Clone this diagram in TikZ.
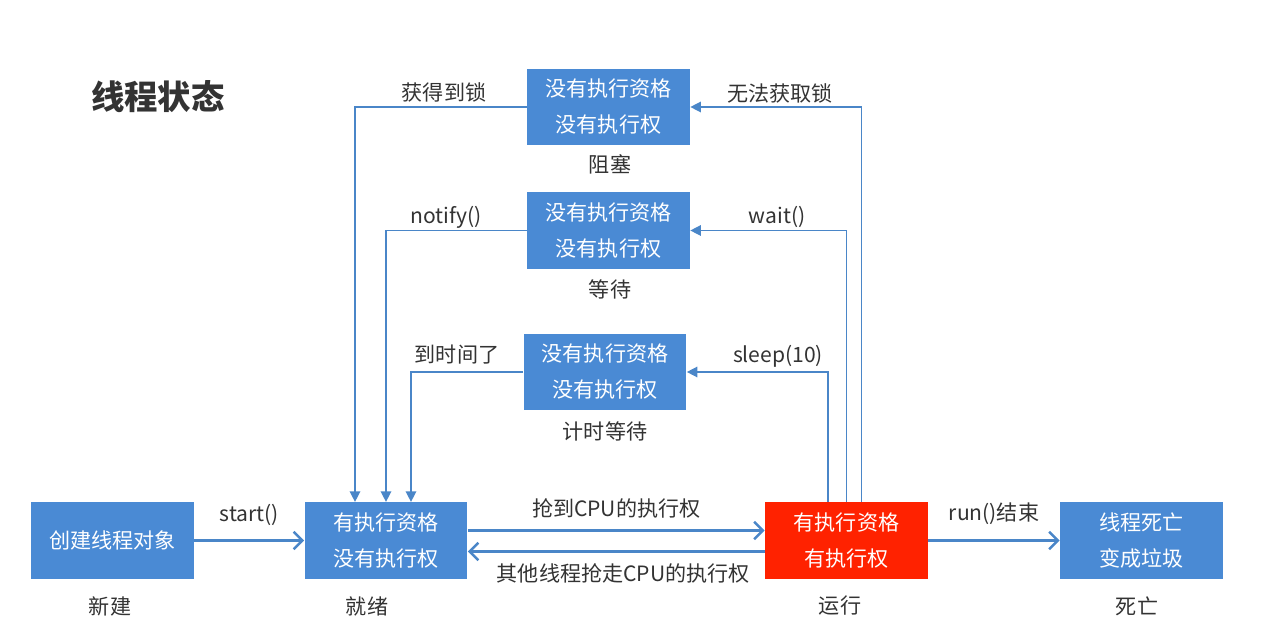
\documentclass[tikz,border=0pt]{standalone}
\usepackage{fontspec}
\setmainfont{Noto Sans CJK SC}
\usetikzlibrary{arrows.meta, positioning, calc}
\definecolor{boxblue}{RGB}{74,138,212}
\definecolor{runred}{RGB}{255,34,0}
\definecolor{lineblue}{RGB}{74,134,200}
\definecolor{txtgray}{RGB}{51,51,51}
\tikzset{
    statebox/.style={fill=boxblue, text=white, minimum width=3.26cm, minimum height=1.53cm,
        align=center, font=\fontsize{12}{20.5}\selectfont, inner sep=0pt},
    caption/.style={text=txtgray, font=\fontsize{12}{14}\selectfont},
    bigarrow/.style={lineblue, line width=1.7pt, -{Straight Barb[length=5pt, width=10pt, line width=1.4pt]}},
    smallarrow/.style={lineblue, line width=0.8pt, -{Triangle[length=6pt, width=6pt]}}
}
\begin{document}
\begin{tikzpicture}[x=0.02cm, y=-0.02cm]
    \useasboundingbox (0,0) rectangle (1286,638);
    % Title
    \node[font=\fontsize{19}{22}\selectfont\bfseries, text=txtgray] (title) at (158,97) {线程状态};

    % States in the bottom row
    \node[statebox] (new) at (112.5,540.5) {创建线程对象};
    \node[statebox] (ready) at (386,540.5) {有执行资格\\没有执行权};
    \node[statebox, fill=runred] (run) at (846.5,540.5) {有执行资格\\有执行权};
    \node[statebox] (dead) at (1141.5,540.5) {线程死亡\\变成垃圾};

    % Waiting states
    \node[statebox] (blocked) at (608.5,107) {没有执行资格\\没有执行权};
    \node[statebox] (waiting) at (608.5,230.5) {没有执行资格\\没有执行权};
    \node[statebox] (timed) at (605,372) {没有执行资格\\没有执行权};

    % Captions
    \foreach \n/\x/\y/\txt in {capnew/110/606/新建, capready/367/606/就绪, caprun/840/606/运行,
        capdead/1137/606/死亡, capblocked/610/164/阻塞, capwaiting/610/289/等待, captimed/605/431/计时等待} {
        \node[caption] (\n) at (\x,\y) {\txt};
    }

    % Main transitions
    \draw[bigarrow] (new) -- (ready) node[caption, midway, above=4pt] {start()};
    \draw[bigarrow] ([yshift=0.2cm]ready.east) -- ([yshift=0.2cm]run.west)
        node[caption, midway, above=3pt] {抢到CPU的执行权};
    \draw[bigarrow] ([yshift=-0.22cm]run.west) -- ([yshift=-0.22cm]ready.east)
        node[caption, midway, below=3pt, xshift=0.14cm] {其他线程抢走CPU的执行权};
    \draw[bigarrow] (run) -- (dead) node[caption, midway, above=5pt] {run()结束};

    % Into and out of the waiting states
    \draw[smallarrow] ([xshift=0.3cm]run.north) |- (blocked.east);
    \draw[smallarrow] (run.north) |- (waiting.east);
    \draw[smallarrow] ([xshift=-0.37cm]run.north) |- (timed.east);
    \draw[smallarrow] (blocked.west) -| ([xshift=-0.62cm]ready.north);
    \draw[smallarrow] (waiting.west) -| (ready.north);
    \draw[smallarrow] (timed.west) -| ([xshift=0.5cm]ready.north);

    % Labels on the thin connectors
    \node[caption] (lock) at (444,92) {获得到锁};
    \node[caption] (nolock) at (780,93) {无法获取锁};
    \node[caption] (notify) at (446,217) {notify()};
    \node[caption] (wait) at (777,217) {wait()};
    \node[caption] (timeup) at (457,355) {到时间了};
    \node[caption] (sleep) at (778,356) {sleep(10)};
\end{tikzpicture}
\end{document}
